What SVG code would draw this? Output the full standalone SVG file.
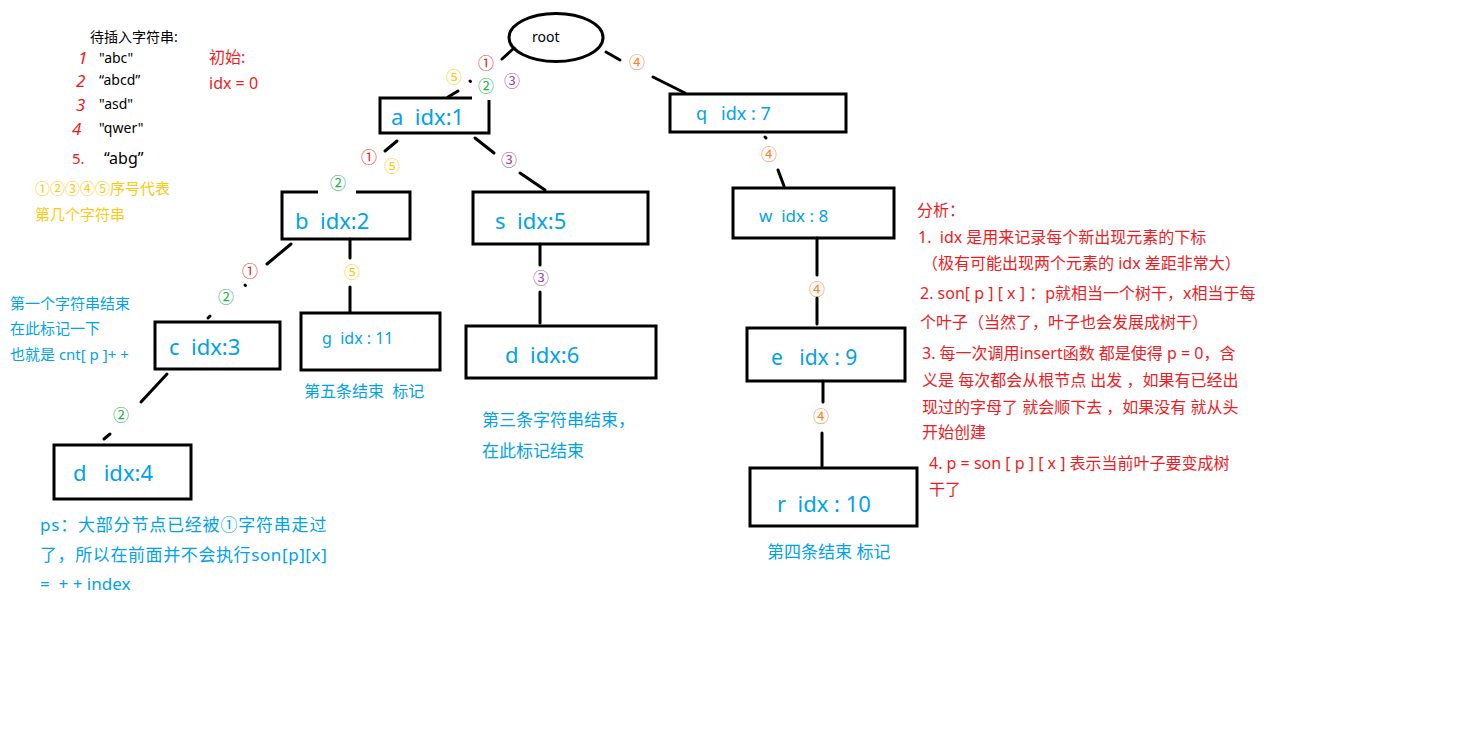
<svg xmlns="http://www.w3.org/2000/svg" width="1470" height="750" viewBox="0 0 1470 750">
<style>
text{font-family:"Noto Sans","Noto Sans CJK SC",sans-serif;white-space:pre}
.box{fill:none;stroke:#000;stroke-width:3}
.ln{stroke:#000;stroke-width:3;stroke-linecap:round;fill:none}
.nt{fill:#00a2e8;font-size:22px}
.blue{fill:#00a2e8}
.red{fill:#ed1c24}
.blk{fill:#000}
.c{font-size:16px;text-anchor:middle}
.c1{fill:#ed1c24}.c2{fill:#22b14c}.c3{fill:#a349a4}.c4{fill:#ff7f27}.c5{fill:#ffc90e}
.note{font-size:16px}
</style>
<rect width="1470" height="750" fill="#fff"/>

<g id="legend">
<text x="90" y="42" class="blk" font-size="14">待插入字符串:</text>
<text x="78" y="64" class="red" font-size="17" font-style="italic">1</text>
<text x="99" y="63" class="blk" font-size="14">"abc"</text>
<text x="76" y="87" class="red" font-size="17" font-style="italic">2</text>
<text x="99" y="85" class="blk" font-size="14">“abcd”</text>
<text x="76" y="111" class="red" font-size="17" font-style="italic">3</text>
<text x="99" y="109" class="blk" font-size="14">"asd"</text>
<text x="72" y="135" class="red" font-size="17" font-style="italic">4</text>
<text x="99" y="133" class="blk" font-size="14">"qwer"</text>
<text x="72" y="164" class="red" font-size="15">5.</text>
<text x="104" y="164" class="blk" font-size="16">“abg”</text>
<text x="209" y="63" class="red" font-size="16">初始:</text>
<text x="209" y="89" class="red" font-size="16">idx = 0</text>
<text x="35" y="194" fill="#ffc90e" font-size="15">①②③④⑤序号代表</text>
<text x="35" y="220" fill="#ffc90e" font-size="15">第几个字符串</text>
</g>

<g id="connectors">
<line class="ln" x1="514" y1="48" x2="502" y2="59"/>
<line class="ln" x1="470" y1="81" x2="470.5" y2="81.5"/>
<line class="ln" x1="458" y1="91" x2="448" y2="97"/>
<line class="ln" x1="606" y1="52" x2="620" y2="60"/>
<line class="ln" x1="653" y1="77" x2="685" y2="93"/>
<line class="ln" x1="397" y1="141" x2="385" y2="151"/>
<line class="ln" x1="475" y1="138" x2="494" y2="153"/>
<line class="ln" x1="520" y1="173" x2="545" y2="190"/>
<line class="ln" x1="291" y1="244" x2="267" y2="264"/>
<line class="ln" x1="245" y1="285" x2="245.5" y2="285.5"/>
<line class="ln" x1="210" y1="316" x2="208" y2="318"/>
<line class="ln" x1="350" y1="239" x2="350" y2="258"/>
<line class="ln" x1="350" y1="287" x2="350" y2="312"/>
<line class="ln" x1="167" y1="374" x2="141" y2="402"/>
<line class="ln" x1="110" y1="434" x2="104" y2="439"/>
<line class="ln" x1="540" y1="244" x2="540" y2="265"/>
<line class="ln" x1="540" y1="292" x2="540" y2="323"/>
<line class="ln" x1="765" y1="137" x2="766" y2="138"/>
<line class="ln" x1="778" y1="170" x2="784" y2="186"/>
<line class="ln" x1="817" y1="238" x2="817" y2="275"/>
<line class="ln" x1="817" y1="298" x2="817" y2="324"/>
<line class="ln" x1="823" y1="381" x2="823" y2="402"/>
<line class="ln" x1="822" y1="433" x2="822" y2="466"/>

<text x="486" y="69" class="c c1">①</text>
<text x="454" y="83" class="c c5">⑤</text>
<text x="486" y="92" class="c c2">②</text>
<text x="512" y="87" class="c c3">③</text>
<text x="637" y="68" class="c c4">④</text>
<text x="369" y="163" class="c c1">①</text>
<text x="392" y="172" class="c c5">⑤</text>
<text x="338" y="189" class="c c2">②</text>
<text x="509" y="166" class="c c3">③</text>
<text x="769" y="160" class="c c4">④</text>
<text x="250" y="277" class="c c1">①</text>
<text x="226" y="303" class="c c2">②</text>
<text x="352" y="278" class="c c5">⑤</text>
<text x="541" y="284" class="c c3">③</text>
<text x="121" y="421" class="c c2">②</text>
<text x="817" y="295" class="c c4">④</text>
<text x="821" y="422" class="c c4">④</text>
</g>

<g id="root">
<ellipse cx="556" cy="37.5" rx="47" ry="24" class="box" stroke-width="2.5"/>
<text x="532" y="42" class="blk" font-size="14">root</text>
</g>
<g id="node-a">
<path class="box" d="M472 98 H380 V133 H489 V100"/>
<text x="391" y="125" class="nt">a  idx:1</text>
</g>
<g id="node-b">
<path class="box" d="M318 192 H282 V239 H410 V192 H356"/>
<text x="295" y="229" class="nt">b  idx:2</text>
</g>
<g id="node-c">
<rect x="155" y="322" width="125" height="47" class="box"/>
<text x="169" y="355" class="nt">c  idx:3</text>
</g>
<g id="node-d4">
<rect x="54" y="445" width="137" height="54" class="box"/>
<text x="73" y="481" class="nt">d   idx:4</text>
</g>
<g id="node-g">
<rect x="301" y="313" width="139" height="57" class="box"/>
<text x="322" y="344" class="blue" font-size="16">g  idx : 11</text>
</g>
<g id="node-s">
<rect x="473" y="192" width="175" height="52" class="box"/>
<text x="495" y="229" class="nt">s  idx:5</text>
</g>
<g id="node-d6">
<rect x="466" y="326" width="190" height="52" class="box"/>
<text x="505" y="363" class="nt">d  idx:6</text>
</g>
<g id="node-q">
<rect x="670" y="94" width="176" height="38" class="box"/>
<text x="696" y="120" class="blue" font-size="18">q   idx : 7</text>
</g>
<g id="node-w">
<rect x="733" y="188" width="161" height="50" class="box"/>
<text x="759" y="222" class="blue" font-size="17">w  idx : 8</text>
</g>
<g id="node-e">
<rect x="747" y="328" width="158" height="53" class="box"/>
<text x="771" y="365" class="blue" font-size="21">e   idx : 9</text>
</g>
<g id="node-r">
<rect x="750" y="468" width="167" height="58" class="box"/>
<text x="777" y="512" class="blue" font-size="22">r  idx : 10</text>
</g>

<g id="notes">
<text x="10" y="309" class="blue" font-size="15">第一个字符串结束</text>
<text x="10" y="334" class="blue" font-size="15">在此标记一下</text>
<text x="10" y="360" class="blue" font-size="15">也就是 cnt[ p ]+ +</text>
<text x="304" y="397" class="blue" font-size="16">第五条结束  标记</text>
<text x="482" y="426" class="blue" font-size="17">第三条字符串结束，</text>
<text x="482" y="457" class="blue" font-size="17">在此标记结束</text>
<text x="767" y="558" class="blue" font-size="17">第四条结束 标记</text>
<text x="40" y="531" class="blue" font-size="17" letter-spacing="0.8">ps：大部分节点已经被①字符串走过</text>
<text x="40" y="561" class="blue" font-size="17" letter-spacing="0.6">了，所以在前面并不会执行son[p][x]</text>
<text x="40" y="590" class="blue" font-size="17">=  + + index</text>
</g>

<g id="analysis">
<text x="917" y="216" class="red note">分析：</text>
<text x="918" y="243" class="red note">1.  idx 是用来记录每个新出现元素的下标</text>
<text x="922" y="269" class="red note">（极有可能出现两个元素的 idx 差距非常大）</text>
<text x="920" y="299" class="red note">2. son[ p ] [ x ] ：p就相当一个树干，x相当于每</text>
<text x="920" y="328" class="red note">个叶子（当然了，叶子也会发展成树干）</text>
<text x="922" y="359" class="red note">3. 每一次调用insert函数 都是使得 p = 0，含</text>
<text x="922" y="386" class="red note">义是 每次都会从根节点 出发 ，如果有已经出</text>
<text x="922" y="413" class="red note">现过的字母了 就会顺下去 ，如果没有 就从头</text>
<text x="922" y="438" class="red note">开始创建</text>
<text x="929" y="469" class="red note">4. p = son [ p ] [ x ] 表示当前叶子要变成树</text>
<text x="929" y="495" class="red note">干了</text>
</g>
</svg>
